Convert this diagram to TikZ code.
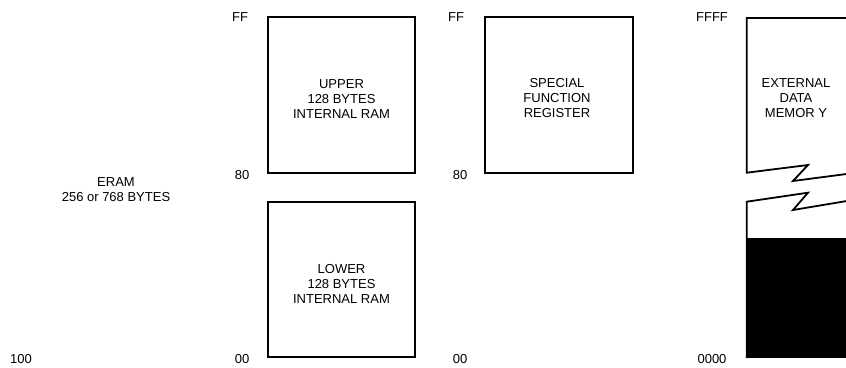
\documentclass[tikz,border=0pt]{standalone}
\usepackage{fontspec}
\setmainfont{Liberation Sans}
\begin{document}
\begin{tikzpicture}[x=1pt,y=-1pt,
    font=\fontsize{13}{15}\selectfont,
    membox/.style={draw, line width=1.8pt, minimum width=147pt, minimum height=156pt, inner sep=0pt},
    boxtext/.style={align=center, inner sep=0pt},
    addr/.style={inner sep=0pt}]
        \useasboundingbox (0,0) rectangle (846,367);

        % internal ram and sfr
        \node[membox] (upper) at (341.5,95) {};
        \node[membox, minimum height=155pt] (lower) at (341.5,279.2) {};
        \node[membox, minimum width=148pt] (sfr) at (559,95) {};
        \node[boxtext] (uppertext) at (341.5,99.5) {UPPER\\128 BYTES\\INTERNAL RAM};
        \node[boxtext] (lowertext) at (341.5,283.5) {LOWER\\128 BYTES\\INTERNAL RAM};
        \node[boxtext] (sfrtext) at (557,98.5) {SPECIAL\\FUNCTION\\REGISTER};
        \node[boxtext] (eram) at (116,189.5) {ERAM\\256 or 768 BYTES};

        % external data memory
        \fill (746,238) rectangle (848,358);
        \draw[line width=1.8pt] (848,18) -- (746.7,18) -- (746.7,172.7) -- (808,165) -- (793,181) -- (848,173.8);
        \draw[line width=1.8pt] (848,200.8) -- (793,210) -- (808,192.7) -- (746.7,201.7) -- (746.7,358);
        \node[boxtext] (ext) at (796,98.5) {EXTERNAL\\DATA\\MEMOR Y};

        % addresses
        \foreach \txt/\x/\y [count=\i] in {FF/240/17.5, 80/242/175, 00/242/359, FF/456/17.5, 80/460/175, 00/460/359, FFFF/712/17.5, 0000/712/359, 100/21/359} {
            \node[addr] (addr\i) at (\x,\y) {\txt};
        }
    \end{tikzpicture}
\end{document}
